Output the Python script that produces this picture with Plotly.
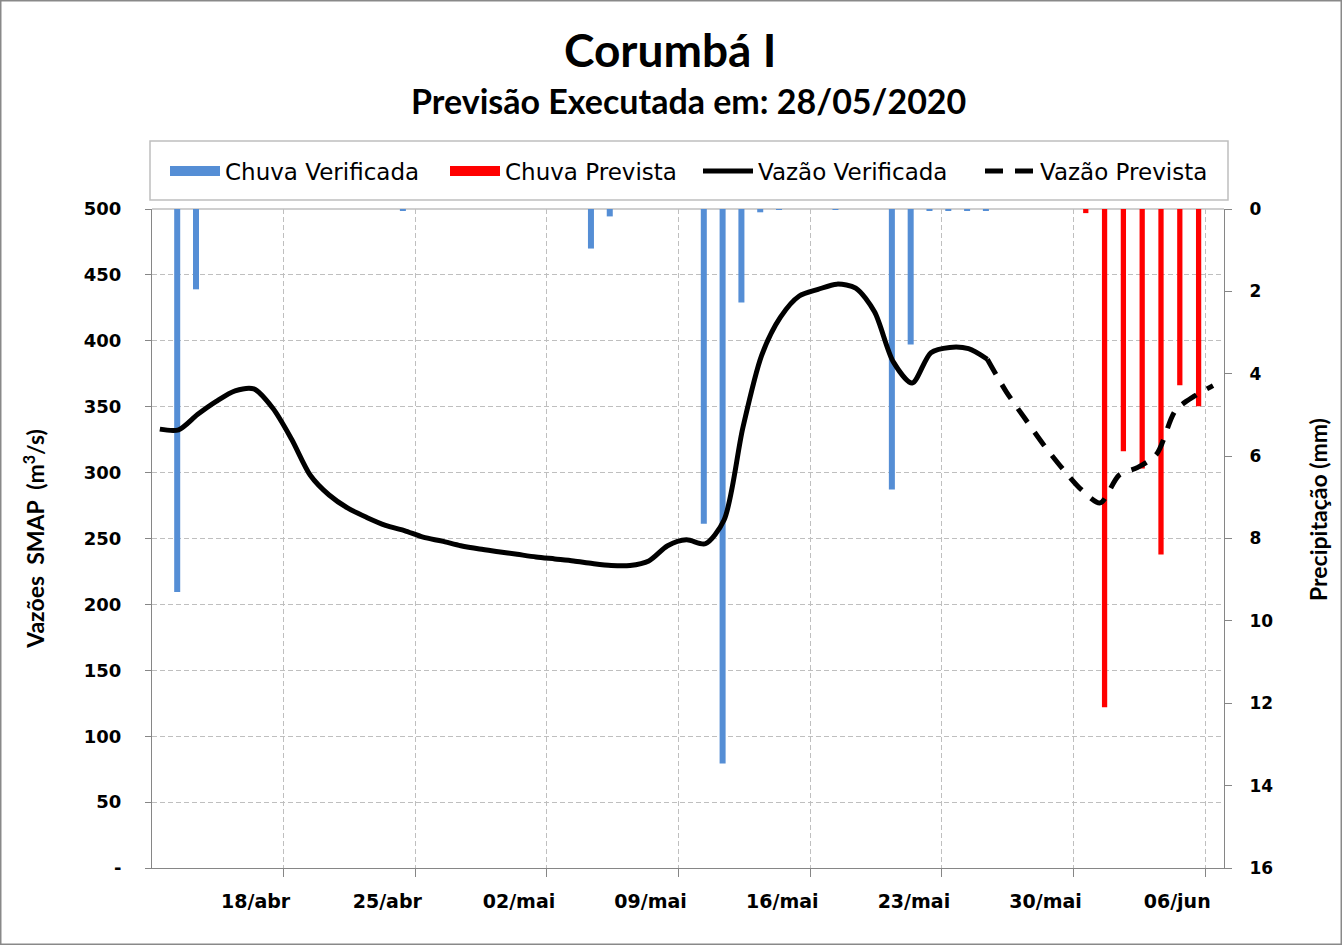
import plotly.graph_objects as go
import pandas as pd

# ---------------- data ----------------
flow_start = "2020-04-11"
verified_flow = [333, 332.5, 344, 354, 362, 363.5, 349, 325.5, 298, 283,
                 273, 266, 260, 256, 251, 248, 244.5, 242, 240, 238,
                 236, 234.5, 233, 231, 229.5, 229.5, 233, 244.5, 249, 246,
                 264, 334, 389, 418, 434, 439, 443, 440, 422, 384,
                 368, 391, 395, 394, 386]
forecast_start = "2020-05-25"
forecast_flow = [386, 361.5, 341, 321, 303, 287, 277, 298, 304, 314, 347, 358, 366]

rain_obs_dates = ["2020-04-12", "2020-04-13", "2020-04-24", "2020-05-04", "2020-05-05",
                  "2020-05-10", "2020-05-11", "2020-05-12", "2020-05-13", "2020-05-14",
                  "2020-05-17", "2020-05-20", "2020-05-21", "2020-05-22", "2020-05-23",
                  "2020-05-24", "2020-05-25"]
rain_obs_mm = [9.3, 1.95, 0.04, 0.96, 0.18,
               7.64, 13.46, 2.27, 0.08, 0.02,
               0.02, 6.81, 3.29, 0.03, 0.03,
               0.03, 0.03]

rain_fc_dates = ["2020-05-30", "2020-05-31", "2020-06-01", "2020-06-02",
                 "2020-06-03", "2020-06-04", "2020-06-05"]
rain_fc_mm = [0.1, 12.1, 5.88, 6.30, 8.39, 4.28, 4.79]

tick_dates = ["2020-04-18", "2020-04-25", "2020-05-02", "2020-05-09",
              "2020-05-16", "2020-05-23", "2020-05-30", "2020-06-06"]
tick_labels = ["18/abr", "25/abr", "02/mai", "09/mai", "16/mai", "23/mai", "30/mai", "06/jun"]

flow_ticks = list(range(0, 501, 50))
flow_ticktext = ["-"] + [str(v) for v in flow_ticks[1:]]
rain_ticks = list(range(0, 17, 2))

# ---------------- layout geometry ----------------
W, H = 1342, 945
ML, MR, MT, MB = 152, 118, 209, 77
PW, PH = W - ML - MR, H - MT - MB


def px2x(px):
    return (px - ML) / PW


def py2y(py):
    return (H - MB - py) / PH


BLUE = "#558ED5"
RED = "#FF0000"
GRID = "#BFBFBF"
AXIS = "#868686"
DAY_MS = 24 * 3600 * 1000

line_x_v = pd.date_range(flow_start, periods=len(verified_flow), freq="D") + pd.Timedelta(hours=10)
line_x_f = pd.date_range(forecast_start, periods=len(forecast_flow), freq="D") + pd.Timedelta(hours=10)
bar_x_obs = pd.to_datetime(rain_obs_dates)
bar_x_fc = pd.to_datetime(rain_fc_dates)

fig = go.Figure()

fig.add_trace(go.Bar(x=bar_x_obs, y=rain_obs_mm, marker=dict(color=BLUE, line=dict(width=0)),
                     width=0.32 * DAY_MS, offset=0.18 * DAY_MS,
                     name="Chuva Verificada", yaxis="y", showlegend=False))
fig.add_trace(go.Bar(x=bar_x_fc, y=rain_fc_mm, marker=dict(color=RED, line=dict(width=0)),
                     width=0.28 * DAY_MS, offset=0.51 * DAY_MS,
                     name="Chuva Prevista", yaxis="y", showlegend=False))

fig.add_trace(go.Scatter(x=line_x_v, y=verified_flow, mode="lines", yaxis="y2",
                         line=dict(color="black", width=5, shape="spline", smoothing=0.8),
                         name="Vazão Verificada", showlegend=False))
fig.add_trace(go.Scatter(x=line_x_f, y=forecast_flow, mode="lines", yaxis="y2",
                         line=dict(color="black", width=5, shape="spline", smoothing=0.8,
                                   dash="17px,12px"),
                         name="Vazão Prevista", showlegend=False))

# legend entries
legend_items = [("Chuva Verificada", BLUE, 10, "solid", 215),
                ("Chuva Prevista", RED, 10, "solid", 188),
                ("Vazão Verificada", "black", 5, "solid", 217),
                ("Vazão Prevista", "black", 5, "18px,12px", 170)]
for name, col, w, dash, lw in legend_items:
    fig.add_trace(go.Scatter(x=[None], y=[None], mode="lines", yaxis="y2", name=name,
                             line=dict(color=col, width=w, dash=dash), legendwidth=lw,
                             hoverinfo="skip"))

tick_font = dict(family="DejaVu Sans", size=18, color="black", weight="bold")
title_font = dict(family="Lato", size=23, color="black", weight="bold")

fig.update_layout(
    width=W, height=H,
    margin=dict(l=ML, r=MR, t=MT, b=MB, autoexpand=False),
    paper_bgcolor="white", plot_bgcolor="white",
    barmode="overlay",
    showlegend=True,
    legend=dict(orientation="h", x=px2x(165), y=py2y(171), xanchor="left", yanchor="middle",
                font=dict(family="DejaVu Sans", size=23, color="black"),
                itemwidth=50, bgcolor="rgba(0,0,0,0)", borderwidth=0,
                itemclick=False, itemdoubleclick=False),
    xaxis=dict(type="date", range=["2020-04-11", "2020-06-07"],
               tickmode="array", tickvals=tick_dates, ticktext=tick_labels,
               showgrid=True, gridcolor=GRID, griddash="5px,3px", gridwidth=1,
               showline=True, linecolor=AXIS, linewidth=1,
               ticks="outside", ticklen=8, tickcolor=AXIS,
               tickfont=dict(family="DejaVu Sans", size=19, color="black", weight="bold"),
               ticklabelshift=-28, ticklabelstandoff=8, zeroline=False),
    yaxis=dict(side="right", range=[16, 0], tickmode="array", tickvals=rain_ticks,
               showgrid=False, zeroline=False, showline=True, linecolor=AXIS, linewidth=1,
               ticks="outside", ticklen=7, tickcolor=AXIS,
               tickfont=dict(family="DejaVu Sans", size=17, color="black", weight="bold"),
               ticklabelstandoff=14),
    yaxis2=dict(overlaying="y", side="left", range=[0, 500], tickmode="array",
                tickvals=flow_ticks, ticktext=flow_ticktext,
                showgrid=True, gridcolor=GRID, griddash="5px,3px", gridwidth=1,
                zeroline=False, showline=True, linecolor=AXIS, linewidth=1,
                ticks="outside", ticklen=6, tickcolor=AXIS,
                tickfont=tick_font, ticklabelstandoff=20,
                title=dict(text="Vazões  SMAP  (m<sup>3</sup>/s)", font=title_font, standoff=32),
                automargin=True),
    shapes=[
        dict(type="rect", xref="paper", yref="paper",
             x0=px2x(0.75), x1=px2x(W - 0.75), y0=py2y(H - 0.75), y1=py2y(0.75),
             line=dict(color="#898989", width=1.5), fillcolor="rgba(0,0,0,0)", layer="above"),
        dict(type="rect", xref="paper", yref="paper",
             x0=px2x(150), x1=px2x(1228), y0=py2y(200), y1=py2y(141),
             line=dict(color=GRID, width=1.5), fillcolor="rgba(0,0,0,0)", layer="below"),
        dict(type="line", xref="paper", yref="paper", x0=0, x1=1, y0=1, y1=1,
             line=dict(color=GRID, width=1.5), layer="below"),
    ],
    annotations=[
        dict(text="Corumbá I", xref="paper", yref="paper", x=px2x(670), y=py2y(49),
             xanchor="center", yanchor="middle", showarrow=False,
             font=dict(family="Lato", size=46, color="black", weight="bold")),
        dict(text="Previsão Executada em: 28/05/2020", xref="paper", yref="paper",
             x=px2x(688), y=py2y(101), xanchor="center", yanchor="middle", showarrow=False,
             font=dict(family="Lato", size=34, color="black", weight="bold")),
        dict(text="Precipitação (mm)", xref="paper", yref="paper", x=px2x(1318), y=py2y(510),
             xanchor="center", yanchor="middle", textangle=-90, showarrow=False,
             font=title_font),
    ],
)

fig.write_html("out.html")
